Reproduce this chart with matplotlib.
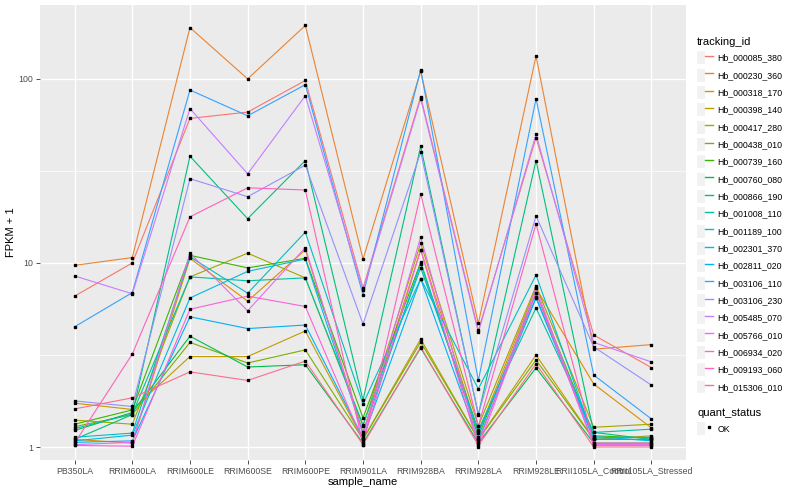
import matplotlib
matplotlib.use("Agg")
import matplotlib.pyplot as plt
from matplotlib.lines import Line2D
from matplotlib.patches import Patch
from matplotlib.legend_handler import HandlerTuple
import numpy as np

samples = ["PB350LA", "RRIM600LA", "RRIM600LE", "RRIM600SE", "RRIM600PE", "RRIM901LA",
           "RRIM928BA", "RRIM928LA", "RRIM928LE", "RRII105LA_Control", "RRII105LA_Stressed"]

tracking_ids = ["Hb_000085_380", "Hb_000230_360", "Hb_000318_170", "Hb_000398_140", "Hb_000417_280",
                "Hb_000438_010", "Hb_000739_160", "Hb_000760_080", "Hb_000866_190", "Hb_001008_110",
                "Hb_001189_100", "Hb_002301_370", "Hb_002811_020", "Hb_003106_110", "Hb_003106_230",
                "Hb_005485_070", "Hb_005766_010", "Hb_006934_020", "Hb_009193_060", "Hb_015306_010"]

# FPKM + 1, one row per tracking_id, columns follow samples
fpkm = [
    [6.6, 10.0, 61, 66, 98, 7.3, 80, 4.3, 48, 4.06, 2.7],
    [9.7, 10.7, 190, 100, 195, 10.5, 110, 4.7, 133, 3.4, 3.6],
    [1.10, 1.05, 10.6, 6.2, 11.8, 1.20, 11.8, 1.20, 7.3, 2.2, 1.27],
    [1.73, 1.60, 3.1, 3.1, 4.27, 1.10, 3.86, 1.10, 3.16, 1.10, 1.15],
    [1.40, 1.33, 8.4, 11.3, 8.3, 1.30, 12.8, 1.30, 7.5, 1.28, 1.33],
    [1.29, 1.50, 3.7, 2.86, 3.37, 1.10, 3.72, 1.10, 2.97, 1.10, 1.10],
    [1.33, 1.59, 11.0, 9.4, 10.6, 1.44, 10.1, 1.14, 6.9, 1.15, 1.12],
    [1.23, 1.54, 4.0, 2.72, 2.8, 1.05, 3.45, 1.05, 2.69, 1.05, 1.05],
    [1.10, 1.50, 38, 17.4, 36, 1.80, 43, 1.50, 36, 1.20, 1.10],
    [1.26, 1.51, 8.4, 8.0, 8.3, 1.32, 9.4, 1.24, 5.7, 1.20, 1.25],
    [1.13, 1.19, 10.8, 6.85, 14.7, 1.71, 8.2, 2.07, 8.6, 1.12, 1.13],
    [1.08, 1.16, 6.45, 9.0, 10.5, 1.19, 9.9, 1.19, 6.5, 1.14, 1.08],
    [1.06, 1.08, 5.1, 4.4, 4.6, 1.12, 8.2, 1.09, 6.45, 1.10, 1.10],
    [4.5, 6.9, 87, 63, 93, 6.7, 112, 2.3, 78, 2.46, 1.42],
    [1.78, 1.66, 28.7, 22.9, 34, 4.66, 40, 1.51, 18, 3.5, 2.17],
    [8.5, 6.8, 69, 30.5, 81, 7.1, 78, 4.2, 50, 3.7, 2.9],
    [1.03, 1.06, 11.3, 5.5, 12.1, 1.16, 13.8, 1.05, 7.3, 1.03, 1.03],
    [1.02, 1.01, 5.6, 6.6, 5.8, 1.07, 11.8, 1.00, 6.9, 1.02, 1.02],
    [1.05, 3.2, 17.8, 25.6, 24.9, 1.03, 23.7, 1.30, 16.3, 1.05, 1.05],
    [1.61, 1.85, 2.56, 2.3, 2.93, 1.03, 3.5, 1.02, 2.83, 1.00, 1.00],
]

colors = ["#F8766D", "#EA8331", "#D89000", "#C09B00", "#A3A500", "#7CAE00", "#39B600", "#00BB4E",
          "#00BF7D", "#00C1A3", "#00BFC4", "#00BAE0", "#00B0F6", "#35A2FF", "#9590FF", "#C77CFF",
          "#E76BF3", "#FA62DB", "#FF62BC", "#FF6C90"]

plt.rcParams['font.family'] = ['Liberation Sans', 'DejaVu Sans']

fig = plt.figure(figsize=(8, 5), dpi=100)
ax = fig.add_axes([40 / 800, 40 / 500, 646 / 800, 455 / 500])
ax.set_facecolor("#EBEBEB")

x = np.arange(len(samples))
for vals, col in zip(fpkm, colors):
    ax.plot(x, vals, color=col, linewidth=0.8, zorder=2)
for vals in fpkm:
    ax.plot(x, vals, linestyle="none", marker="s", markersize=2.1, color="black", zorder=3)

ax.set_yscale("log")
ax.set_ylim(0.85, 252)
ax.set_xlim(-0.6, len(samples) - 0.4)
ax.set_yticks([1, 10, 100])
ax.set_yticklabels(["1", "10", "100"])
ax.set_yticks([10 ** 0.5, 10 ** 1.5], minor=True)
ax.yaxis.set_minor_formatter(plt.NullFormatter())
ax.set_xticks(x)
ax.set_xticklabels(samples)

ax.grid(which="major", color="white", linewidth=1.0, zorder=0)
ax.grid(which="minor", axis="y", color="white", linewidth=0.5, zorder=0)
ax.set_axisbelow(True)
for s in ax.spines.values():
    s.set_visible(False)
ax.tick_params(axis="both", which="major", length=2.7, width=0.6, color="#333333",
               labelsize=6.3, labelcolor="#4D4D4D", pad=2)
ax.tick_params(axis="y", which="minor", length=0)

ax.set_xlabel("sample_name", fontsize=8, labelpad=1)
ax.set_ylabel("FPKM + 1", fontsize=8, labelpad=2)

# legends
legend_kw = dict(loc="upper left", frameon=False, fontsize=6.3, title_fontsize=8,
                 handlelength=1.85, handleheight=1.9, labelspacing=0.5, handletextpad=0.45,
                 borderaxespad=0, borderpad=0,
                 handler_map={tuple: HandlerTuple(ndivide=None, pad=0)})

id_handles = [(Patch(facecolor="#F2F2F2", edgecolor="none"),
               Line2D([], [], color=c, linewidth=1.0)) for c in colors]
leg1 = fig.legend(id_handles, tracking_ids, title="tracking_id",
                  bbox_to_anchor=(697 / 800, 1 - 37 / 500), **legend_kw)
leg1._legend_box.align = "left"

ok_handle = (Patch(facecolor="#F2F2F2", edgecolor="none"),
             Line2D([], [], linestyle="none", marker="s", markersize=2.1, color="black"))
leg2 = fig.legend([ok_handle], ["OK"], title="quant_status",
                  bbox_to_anchor=(697 / 800, 1 - 408 / 500), **legend_kw)
leg2._legend_box.align = "left"

fig.savefig("out.png", dpi=100)
